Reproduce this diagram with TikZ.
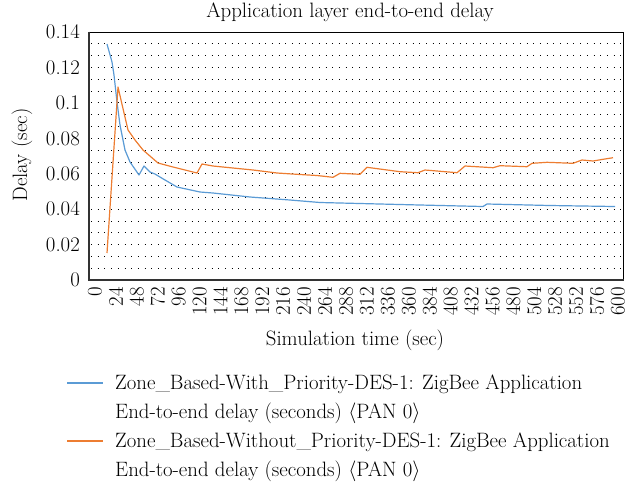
\documentclass[tikz,border=0pt]{standalone}
\usepackage{tikz}
\definecolor{serA}{RGB}{91,155,213}
\definecolor{serB}{RGB}{237,125,49}
\tikzset{
  lbl/.style={font=\fontsize{20.8}{24}\selectfont, inner sep=0pt},
  gridl/.style={black, line width=0.8pt, dash pattern=on 0.8pt off 5.9pt},
  ser/.style={line width=1.2pt, line join=round},
}
\begin{document}
\begin{tikzpicture}[x=1pt,y=-1pt]
\useasboundingbox (0,0) rectangle (636,483);
% grid
\foreach \k in {1,...,20} {
  \draw[gridl] (91,32+\k*11.8095) -- (622,32+\k*11.8095);
}
% frame
\draw[black, line width=0.9pt] (89,32) -- (623,32) -- (623,280);
\draw[black!80, line width=2pt] (89,31.5) -- (89,280) -- (623.5,280);
% y tick labels
\foreach \v/\t [count=\i from 0] in {0/0,0.02/0.02,0.04/0.04,0.06/0.06,0.08/0.08,0.1/0.1,0.12/0.12,0.14/0.14} {
  \node[lbl, anchor=east] (yt\i) at (80,280-\i*35.4286) {\t};
}
% x tick labels
\foreach \t [count=\i from 0] in {0,24,...,600} {
  \node[lbl, anchor=east, rotate=90] (xt\i) at (95+\t*0.87167,287) {\t};
}
% series blue
\draw[ser, serA] (107,44) -- (112,62) -- (114,75) -- (117,102) -- (120,125) -- (125,150) -- (130,162) -- (139,175) -- (144,166) -- (150,172) -- (155,174) -- (165,180) -- (177,187) -- (200,192) -- (213,193) -- (250,197) -- (290,200) -- (320,202.5) -- (360,203.5) -- (420,205) -- (483,206.5) -- (487,204) -- (550,205.5) -- (615,206.5);
% series orange
\draw[ser, serB] (107,253) -- (118,87) -- (121,100) -- (128,130) -- (135,140) -- (143,150) -- (158,163) -- (173,167) -- (197,173) -- (202,164) -- (213,166) -- (253,170) -- (277,173) -- (300,174.5) -- (317,175.5) -- (333,177.3) -- (340,173.3) -- (360,174.3) -- (367,167.3) -- (400,171.7) -- (418,172.7) -- (425,170) -- (457,172.7) -- (465,166) -- (493,167.7) -- (500,165.7) -- (527,166.7) -- (532,163.3) -- (547,162.3) -- (573,163.3) -- (582,160) -- (593,161) -- (603,159.3) -- (613,157.7);
% titles
\node[lbl] (title) at (350,12) {Application layer end-to-end delay};
\node[lbl, rotate=90] (ytitle) at (22,155) {Delay (sec)};
\node[lbl] (xtitle) at (355,340) {Simulation time (sec)};
% legend
\coordinate (la1) at (67,383);
\coordinate (la2) at (103,383);
\coordinate (lb1) at (67,441);
\coordinate (lb2) at (103,441);
\draw[ser, serA] (la1) -- (la2);
\draw[ser, serB] (lb1) -- (lb2);
\node[lbl, anchor=west] (leg1) at (115,384) {Zone\_Based-With\_Priority-DES-1: ZigBee Application};
\node[lbl, anchor=west] (leg2) at (115,413) {End-to-end delay (seconds) $\langle$PAN 0$\rangle$};
\node[lbl, anchor=west] (leg3) at (115,442) {Zone\_Based-Without\_Priority-DES-1: ZigBee Application};
\node[lbl, anchor=west] (leg4) at (115,471) {End-to-end delay (seconds) $\langle$PAN 0$\rangle$};
\end{tikzpicture}
\end{document}
